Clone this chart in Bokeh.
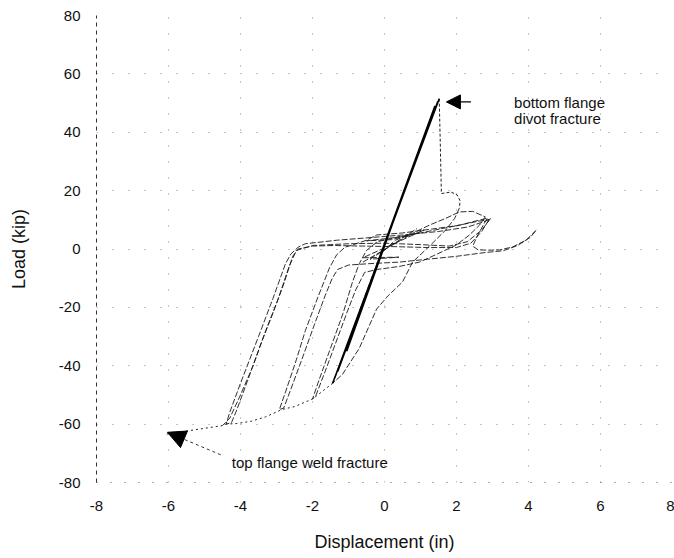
from bokeh.plotting import figure
from bokeh.models import Range1d, FixedTicker, Arrow, NormalHead, ColumnDataSource
from bokeh.core.properties import value
from bokeh.embed import file_html
from bokeh.resources import INLINE

# ---------------- data ----------------
x_ticks = [-8, -6, -4, -2, 0, 2, 4, 6, 8]
x_tick_labels = ["-8", "-6", "-4", "-2", "0", "2", "4", "6", "8"]
y_ticks = [-80, -60, -40, -20, 0, 20, 40, 60, 80]
y_tick_labels = ["-80", "-60", "-40", "-20", "0", "20", "40", "60", "80"]

# elastic cycles up to the bottom flange fracture (thick band)
elastic_x = [-1.05, 1.4, -1.3, 1.48, -1.44, 1.52]
elastic_y = [-35, 49, -42, 50.5, -46, 51.5]

# small early cycles near the origin
small_x = [-0.6, 0.7, 0.2, -0.5, 0.7, 1.1, -0.6, 0.4, -0.4, 0.9]
small_y = [-4.5, 4.8, 3.2, 2.8, 4.5, 6.5, -3.0, -2.8, -3.5, 7.0]

# load drop after the bottom flange divot fracture
drop_x = [1.52, 1.55, 1.58, 1.85, 2.02, 2.1, 2.08]
drop_y = [51.5, 36, 19, 19.5, 18.5, 16.5, 14]

# post-fracture cycles
loopA_x = [2.08, 1.95, 1.7, 1.25, 0.78, 0.5, 0.1, -0.22, -0.7, -1.17, -1.44,
           -1.25, -0.95, -0.6, -0.3, -0.05, 0.3, 0.8, 1.25, 1.7, 2.08, 2.45, 2.8]
loopA_y = [14, 10.5, 6.5, 1.0, -4.5, -11.3, -16, -20.6, -34, -43, -46,
           -40, -30, -18, -8, -1, 3, 5.5, 8.2, 10.5, 12.7, 12.9, 11.0]

loopB_x = [2.8, 2.64, 2.36, 2.0, 1.47, 0.97, 0.4, -0.2, -0.55, -0.8, -1.05,
           -1.35, -1.65, -1.9, -2.0, -1.85, -1.5, -1.15, -0.89, -0.7, -0.5,
           -0.2, 0.4, 1.0, 1.6, 2.1, 2.5, 2.85]
loopB_y = [11.0, 8.2, 4.8, 1.4, -1.7, -4.5, -6.0, -7.0, -8, -14, -22,
           -32, -42, -50, -51.4, -46, -34, -22, -11.3, -5, -0.5,
           2.5, 4.2, 5.5, 7.0, 8.2, 9.5, 10.5]

loopC_x = [2.85, 2.6, 2.45, 2.6, 2.9, 3.2, 3.56, 3.94, 4.22, 4.05, 3.7, 3.3,
           2.8, 2.0, 1.2, 0.4, -0.4, -1.0, -1.3, -1.45, -1.65, -1.95, -2.3,
           -2.6, -2.8, -2.92, -2.75, -2.45, -2.2, -1.85, -1.53, -1.33, -1.1,
           -0.89, -0.5, -0.22, 0.5, 1.3, 2.0, 2.6, 2.9]
loopC_y = [10.5, 5.0, 1.0, -0.3, -0.4, -0.3, 0.7, 3.1, 6.5, 4.0, 1.2, -0.6,
           -1.2, -2.5, -3.5, -4.5, -5.0, -5.5, -7.0, -10, -16, -26, -38,
           -48, -54.5, -55, -49, -38, -28, -16.5, -6.5, -2.0, 0.6,
           1.4, 3.0, 4.8, 5.5, 6.8, 8.0, 9.5, 10.0]

loopD_x = [2.9, 2.7, 2.4, 2.0, 1.2, 0.3, -0.6, -1.4, -2.0, -2.4, -2.55, -2.8,
           -3.1, -3.45, -3.8, -4.1, -4.25, -4.4, -4.3, -4.0, -3.5, -3.1,
           -2.75, -2.6, -2.4, -2.2, -1.9, -1.33, -0.5, 0.5, 1.5, 2.3, 2.8, 2.95]
loopD_y = [10.0, 6.0, 2.0, 0.5, 0.5, 0.8, 1.0, 1.2, 1.0, 0.0, -2.5, -12,
           -22, -33, -45, -55, -59.5, -60, -56, -46, -30, -17,
           -5, -1.7, 0.6, 1.8, 2.2, 3.0, 3.8, 4.8, 6.0, 7.5, 9.5, 10.5]

loopE_x = [2.95, 2.7, 2.3, 1.8, 1.0, 0.0, -1.0, -2.0, -2.45, -2.65, -2.95,
           -3.3, -3.65, -4.0, -4.3, -4.5]
loopE_y = [10.5, 6.5, 2.5, 1.0, 1.5, 2.0, 1.8, 1.2, -0.5, -6, -17,
           -28, -40, -50, -58, -60.5]

# negative-side envelope up to the top flange weld fracture
env_x = [-1.44, -2.0, -2.5, -2.85, -3.3, -3.7, -4.1, -4.4, -4.5, -5.3, -6.05]
env_y = [-46, -51.4, -54, -55, -57.5, -59, -59.8, -60, -60.5, -62, -63.4]

# annotations
note_x = [3.6, 3.6, -4.24]
note_y = [50.2, 44.6, -73.1]
note_text = ["bottom flange", "divot fracture", "top flange weld fracture"]
arrow1 = dict(x_start=2.4, y_start=50.4, x_end=1.72, y_end=50.4)
arrow2 = dict(x_start=-4.55, y_start=-70.5, x_end=-6.03, y_end=-62.8)

# ---------------- figure ----------------
FONT = "Liberation Sans"
p = figure(width=674, height=558, output_backend="svg", toolbar_location=None,
           x_range=Range1d(-8, 8), y_range=Range1d(-80, 80),
           min_border_left=96, min_border_right=2, min_border_top=15,
           min_border_bottom=76)
p.outline_line_color = None
p.background_fill_color = "white"
p.border_fill_color = "white"

p.xaxis.ticker = FixedTicker(ticks=x_ticks)
p.yaxis.ticker = FixedTicker(ticks=y_ticks)
p.xaxis.major_label_overrides = dict(zip(x_ticks, x_tick_labels))
p.yaxis.major_label_overrides = dict(zip(y_ticks, y_tick_labels))

for ax in (p.xaxis[0], p.yaxis[0]):
    ax.major_tick_out = 0
    ax.major_tick_in = 0
    ax.minor_tick_out = 0
    ax.minor_tick_in = 0
    ax.major_label_text_font = FONT
    ax.major_label_text_font_size = "15px"
    ax.major_label_text_color = "#111111"
    ax.axis_label_text_font = FONT
    ax.axis_label_text_font_size = "18px"
    ax.axis_label_text_font_style = "normal"
    ax.axis_label_text_color = "#111111"

p.xaxis.axis_label = "Displacement (in)"
p.yaxis.axis_label = "Load (kip)"
p.xaxis.major_label_standoff = 18
p.yaxis.major_label_standoff = 16
p.xaxis.axis_label_standoff = 18
p.yaxis.axis_label_standoff = 27
p.xaxis.axis_line_color = "#555555"
p.xaxis.axis_line_dash = "1 13"
p.yaxis.axis_line_color = "#333333"
p.yaxis.axis_line_dash = "4 4"

p.xgrid.grid_line_color = "#555555"
p.ygrid.grid_line_color = "#555555"
p.xgrid.grid_line_dash = "1 15"
p.ygrid.grid_line_dash = "1 15"
p.xgrid.grid_line_alpha = 0.7
p.ygrid.grid_line_alpha = 0.7

thin = dict(line_color="#1a1a1a", line_width=1, line_dash="6 2", line_alpha=0.9)
for xs, ys in [(loopA_x, loopA_y), (loopB_x, loopB_y), (loopC_x, loopC_y),
               (loopD_x, loopD_y), (loopE_x, loopE_y), (small_x, small_y)]:
    p.line(xs, ys, **thin)

p.line(env_x, env_y, line_color="#222222", line_width=1, line_dash="2 3")
p.line(drop_x, drop_y, line_color="#222222", line_width=1, line_dash="3 2")
p.line(elastic_x, elastic_y, line_color="#000000", line_width=1.6)

src = ColumnDataSource(dict(x=note_x, y=note_y, t=note_text))
p.text(x="x", y="y", text="t", source=src, text_font=value(FONT),
       text_font_size="15px", text_color="#111111",
       text_baseline="alphabetic", text_align="left")

p.add_layout(Arrow(end=NormalHead(size=14, fill_color="black", line_color="black"),
                   line_color="black", line_width=1.2, **arrow1))
p.add_layout(Arrow(end=NormalHead(size=18, fill_color="black", line_color="black"),
                   line_color="#333333", line_width=1, line_dash="3 3", **arrow2))

open("out.html", "w").write(file_html(p, INLINE))
